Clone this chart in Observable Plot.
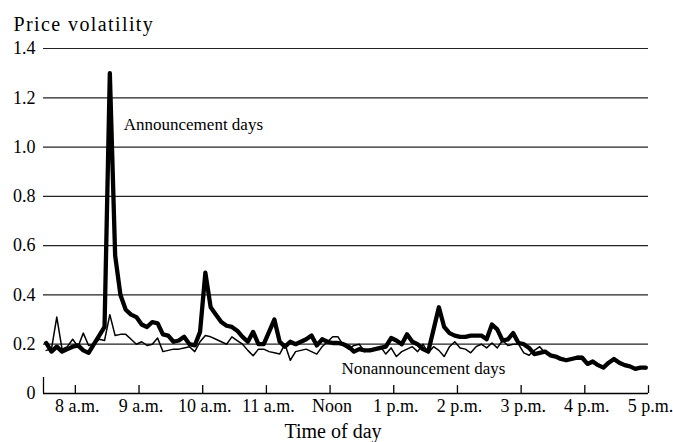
<!DOCTYPE html>
<html><head><meta charset="utf-8">
<script src="https://cdn.jsdelivr.net/npm/d3@7"></script>
<script src="https://cdn.jsdelivr.net/npm/@observablehq/plot@0.6"></script>
<style>
body{margin:0;background:#fff;}
svg{font-family:"Liberation Serif", serif;}
</style></head><body><div id="chart"></div>
<script>
// 5-minute intervals (start times)
const slots = [
"7:30","7:35","7:40","7:45","7:50","7:55",
"8:00","8:05","8:10","8:15","8:20","8:25","8:30","8:35","8:40","8:45","8:50","8:55",
"9:00","9:05","9:10","9:15","9:20","9:25","9:30","9:35","9:40","9:45","9:50","9:55",
"10:00","10:05","10:10","10:15","10:20","10:25","10:30","10:35","10:40","10:45","10:50","10:55",
"11:00","11:05","11:10","11:15","11:20","11:25","11:30","11:35","11:40","11:45","11:50","11:55",
"12:00","12:05","12:10","12:15","12:20","12:25","12:30","12:35","12:40","12:45","12:50","12:55",
"13:00","13:05","13:10","13:15","13:20","13:25","13:30","13:35","13:40","13:45","13:50","13:55",
"14:00","14:05","14:10","14:15","14:20","14:25","14:30","14:35","14:40","14:45","14:50","14:55",
"15:00","15:05","15:10","15:15","15:20","15:25","15:30","15:35","15:40","15:45","15:50","15:55",
"16:00","16:05","16:10","16:15","16:20","16:25","16:30","16:35","16:40","16:45","16:50","16:55"
];
const announcement = [
0.205,0.17,0.19,0.17,0.18,0.19,
0.195,0.175,0.165,0.2,0.235,0.27,1.30,0.56,0.40,0.34,0.32,0.31,
0.28,0.27,0.29,0.285,0.24,0.235,0.21,0.215,0.23,0.2,0.195,0.25,
0.49,0.35,0.32,0.29,0.275,0.27,0.255,0.23,0.21,0.25,0.2,0.2,
0.25,0.30,0.21,0.19,0.21,0.2,0.21,0.22,0.235,0.195,0.22,0.21,
0.205,0.205,0.2,0.19,0.17,0.18,0.175,0.175,0.18,0.185,0.19,0.225,
0.215,0.2,0.24,0.21,0.2,0.18,0.17,0.26,0.35,0.27,0.245,0.235,
0.23,0.23,0.235,0.235,0.235,0.22,0.28,0.26,0.215,0.22,0.245,0.205,
0.2,0.185,0.16,0.165,0.17,0.155,0.15,0.14,0.135,0.14,0.145,0.145,
0.12,0.13,0.115,0.105,0.125,0.14,0.125,0.115,0.11,0.1,0.105,0.105
];
const nonannouncement = [
0.175,0.18,0.31,0.18,0.19,0.22,
0.19,0.245,0.195,0.2,0.22,0.215,0.32,0.235,0.24,0.24,0.22,0.2,
0.21,0.195,0.2,0.225,0.17,0.175,0.18,0.18,0.185,0.19,0.17,0.21,
0.235,0.23,0.22,0.21,0.2,0.23,0.215,0.2,0.175,0.153,0.18,0.18,
0.17,0.165,0.16,0.2,0.135,0.17,0.175,0.18,0.17,0.16,0.19,0.21,
0.23,0.23,0.195,0.18,0.195,0.2,0.17,0.18,0.18,0.19,0.16,0.185,
0.15,0.17,0.18,0.19,0.17,0.2,0.165,0.19,0.175,0.15,0.19,0.21,
0.185,0.18,0.165,0.19,0.2,0.185,0.205,0.185,0.215,0.195,0.2,0.2,
0.165,0.155,0.175,0.19,0.165,0.16,0.15,0.145,0.14,0.14,0.15,0.15,
0.125,0.125,0.115,0.11,0.12,0.135,0.12,0.115,0.11,0.105,0.105,0.1
];
const hourTicks = [8,9,10,11,12,13,14,15,16,17];
const hourLabels = ["8 a.m.","9 a.m.","10 a.m.","11 a.m.","Noon","1 p.m.","2 p.m.","3 p.m.","4 p.m.","5 p.m."];
const yTicks = [0,0.2,0.4,0.6,0.8,1.0,1.2,1.4];
const seriesLabels = ["Announcement days","Nonannouncement days"];
const seriesLabelX = [8.76, 12.18];
const seriesLabelY = [1.092, 0.102];
const title = "Price volatility";
const xTitle = "Time of day";

function slotCenter(s){ const [h,m] = s.split(":").map(Number); return h + (m + 2.5) / 60; }
const rowsA = slots.map((s,i) => ({x: slotCenter(s), y: announcement[i]}));
const rowsN = slots.map((s,i) => ({x: slotCenter(s), y: nonannouncement[i]}));
const labelRows = seriesLabels.map((t,i) => ({t, x: seriesLabelX[i], y: seriesLabelY[i]}));

const plot = Plot.plot({
  width: 673, height: 442,
  marginLeft: 43, marginRight: 25, marginTop: 48, marginBottom: 49,
  style: {fontFamily: "Liberation Serif, serif", fontSize: "18px", color: "#000", background: "#fff", overflow: "visible"},
  x: {domain: [7.5, 17], axis: null, label: null},
  y: {domain: [0, 1.4], axis: null, label: null},
  marks: [
    Plot.ruleY(yTicks.filter(d => d > 0), {stroke: "#222", strokeWidth: 1.2}),
    Plot.ruleY([0], {stroke: "#000", strokeWidth: 1.3}),
    Plot.ruleX(hourTicks, {y1: 0, y2: 0.032, stroke: "#000", strokeWidth: 1.3}),
    Plot.ruleX([7.5], {y1: 0, y2: 0.065, stroke: "#000", strokeWidth: 1.3}),
    Plot.axisY({ticks: yTicks, tickSize: 0, tickPadding: 8, label: null,
      tickFormat: d => d === 0 ? "0" : d.toFixed(1)}),
    Plot.axisX({ticks: hourTicks, tickSize: 0, tickPadding: 6, label: null, dx: 2,
      tickFormat: d => hourLabels[hourTicks.indexOf(d)]}),
    Plot.line(rowsN, {x: "x", y: "y", stroke: "#000", strokeWidth: 1.5, strokeLinejoin: "round"}),
    Plot.line(rowsA, {x: "x", y: "y", stroke: "#000", strokeWidth: 4.3, strokeLinejoin: "round"}),
    Plot.text(labelRows, {x: "x", y: "y", text: "t", textAnchor: "start", fontSize: 17, fill: "#000"}),
    Plot.text([title], {text: d => d, frameAnchor: "top-left", dx: -30, dy: -18, textAnchor: "start", lineAnchor: "bottom", fontSize: 20, fill: "#000", style: "letter-spacing:1.4px"}),
    Plot.text([xTitle], {text: d => d, frameAnchor: "bottom", dx: -13, dy: 44, lineAnchor: "bottom", fontSize: 20, fill: "#000"})
  ]
});
plot.querySelectorAll("text").forEach(t => { if (t.textContent === title) t.setAttribute("letter-spacing", "1.4"); });
document.getElementById("chart").appendChild(plot);
</script></body></html>
